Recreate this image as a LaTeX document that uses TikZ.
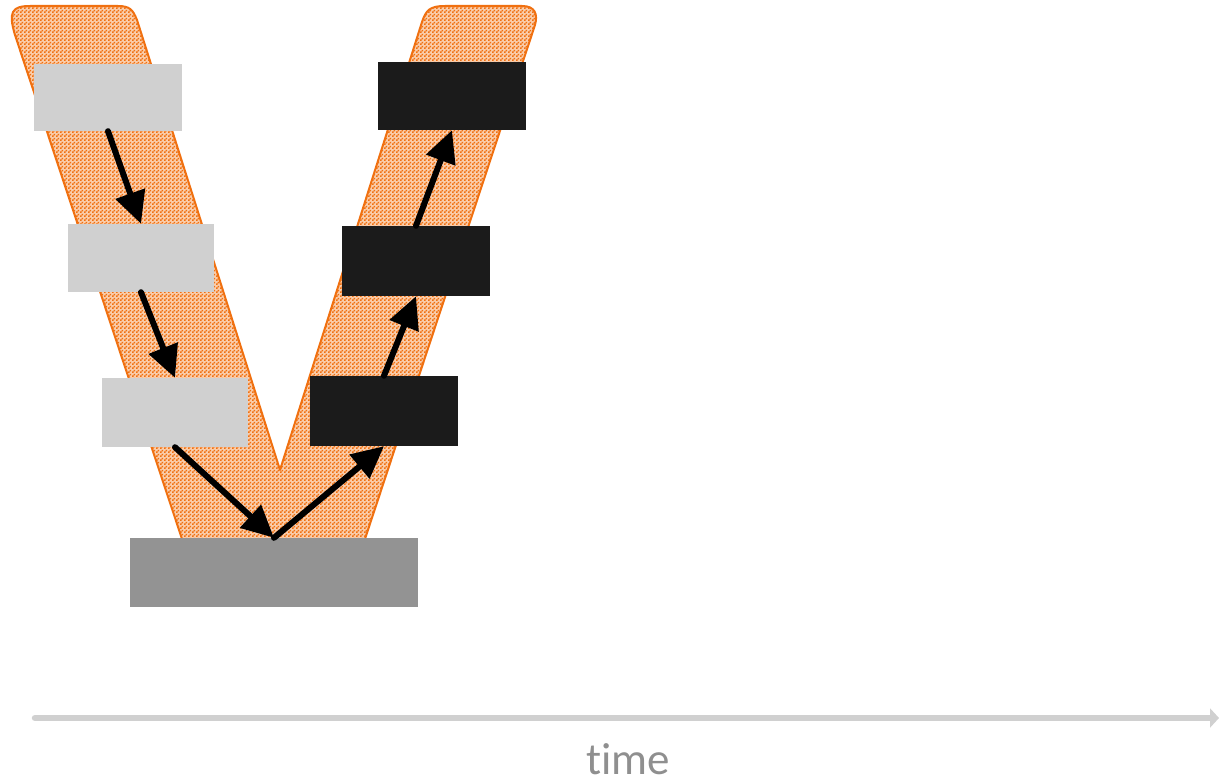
\documentclass[tikz,border=0pt]{standalone}
\usepackage{fontspec}
\newfontfamily\carl[Ligatures={NoCommon,NoRare,NoDiscretionary}]{Carlito}
\usetikzlibrary{patterns,arrows.meta}
\pgfdeclarepatternformonly{finecheck}{\pgfpointorigin}{\pgfqpoint{4pt}{4pt}}{\pgfqpoint{4pt}{4pt}}{%
  \pgfpathrectangle{\pgfpointorigin}{\pgfqpoint{2pt}{2pt}}%
  \pgfpathrectangle{\pgfqpoint{2pt}{2pt}}{\pgfqpoint{2pt}{2pt}}%
  \pgfusepath{fill}}
\definecolor{vorange}{HTML}{F07010}
\definecolor{lgray}{HTML}{D0D0D0}
\definecolor{mgray}{HTML}{939393}
\definecolor{dgray}{HTML}{1B1B1B}
\definecolor{tgray}{HTML}{8F8F8F}
\tikzset{
  box/.style={draw=none, inner sep=0pt, minimum width=148pt, minimum height=68pt},
  lbox/.style={box, fill=lgray},
  dbox/.style={box, fill=dgray},
  flow/.style={line width=6pt, line cap=round, -{Triangle[length=32pt,width=30pt]}},
  vband/.style={draw=vorange, line width=2pt, preaction={fill=vorange!35!white}, pattern=finecheck, pattern color=vorange, line join=round},
  timeline/.style={draw=lgray, line width=6.5pt, line cap=round, -{Triangle[length=9pt,width=19pt]}}
}
\begin{document}
\begin{tikzpicture}[x=1pt,y=-1pt]
\useasboundingbox (0,0) rectangle (1219,781);
% V band
\path[vband] (185,548) -- (15,35) .. controls (8,12) and (12,6) .. (30,6) -- (118,6)
  .. controls (130,6) and (133,10) .. (137,20) -- (280,470) -- (422,22)
  .. controls (426,10) and (430,6) .. (445,6) -- (522,6)
  .. controls (535,6) and (538,14) .. (535,25) -- (362,548) -- cycle;
% boxes
\node[lbox, minimum height=67pt] (L1) at (108,97.5) {};
\node[lbox, minimum width=146pt] (L2) at (141,258) {};
\node[lbox, minimum width=146pt, minimum height=69pt] (L3) at (175,412.5) {};
\node[box, fill=mgray, minimum width=288pt, minimum height=69pt] (B) at (274,572.5) {};
\node[dbox, minimum height=70pt] (R1) at (384,411) {};
\node[dbox, minimum height=70pt] (R2) at (416,261) {};
\node[dbox] (R3) at (452,96) {};
% arrows
\draw[flow] (L1.south) -- (L2.north);
\draw[flow] (L2.south) -- (L3.north);
\draw[flow] (L3.south) -- (B.north);
\draw[flow] (B.north) -- (R1.south);
\draw[flow] (R1.north) -- (R2.south);
\draw[flow] (R2.north) -- (R3.south);
% time axis
\coordinate (t0) at (35,718);
\coordinate (t1) at (1219,718);
\draw[timeline] (t0) -- (t1);
\node[anchor=base, text=tgray, font=\carl\fontsize{45}{50}\selectfont, inner sep=0pt] (time) at (628,774) {time};
\end{tikzpicture}
\end{document}
